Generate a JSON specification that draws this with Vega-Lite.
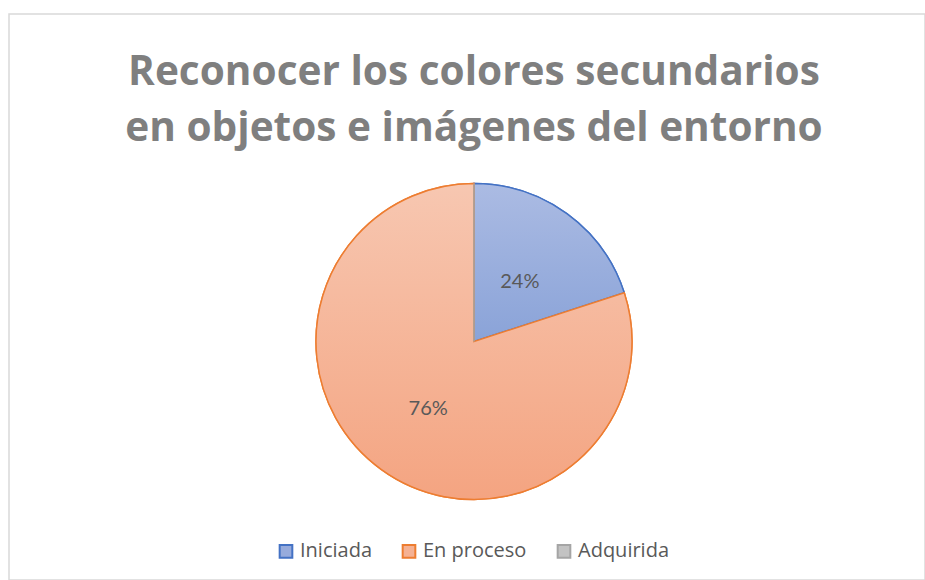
{
  "$schema": "https://vega.github.io/schema/vega-lite/v6.json",
  "width": 925,
  "height": 580,
  "autosize": {"type": "fit", "contains": "padding"},
  "padding": {"left": 9, "top": 14, "right": 0, "bottom": 0},
  "background": "white",
  "view": {"stroke": "#d9d9d9", "strokeWidth": 1.5, "fill": "white"},
  "config": {
    "font": "Lato",
    "legend": {
      "orient": "none",
      "direction": "horizontal",
      "legendX": 267,
      "legendY": 527,
      "symbolType": "square",
      "symbolSize": 160,
      "symbolStrokeWidth": 2,
      "labelFont": "Open Sans",
      "labelFontSize": 20,
      "labelColor": "#595959",
      "labelOffset": 4,
      "columnPadding": 26
    }
  },
  "title": {
    "text": ["Reconocer los colores secundarios", "en objetos e imágenes del entorno"],
    "font": "Open Sans",
    "fontSize": 40.6,
    "fontWeight": "bold",
    "color": "#7f7f7f",
    "anchor": "middle",
    "frame": "group",
    "baseline": "top",
    "lineHeight": 56,
    "offset": -136,
    "dx": 7
  },
  "data": {
    "values": [
      {"estado": "Iniciada", "valor": 20, "etiqueta": "24%", "n": 1},
      {"estado": "En proceso", "valor": 80, "etiqueta": "76%", "n": 2},
      {"estado": "Adquirida", "valor": 0, "etiqueta": "", "n": 3}
    ]
  },
  "encoding": {
    "theta": {"field": "valor", "type": "quantitative", "stack": true},
    "order": {"field": "n", "type": "quantitative"}
  },
  "layer": [
    {
      "mark": {"type": "arc", "radius": 158, "strokeWidth": 1.5, "xOffset": 7, "yOffset": 44.5},
      "encoding": {
        "stroke": {
          "field": "estado",
          "type": "nominal",
          "sort": ["Iniciada", "En proceso", "Adquirida"],
          "scale": {"domain": ["Iniciada", "En proceso", "Adquirida"], "range": ["#4472c4", "#ed7d31", "#a5a5a5"]},
          "legend": {"title": null}
        },
        "fill": {
          "field": "estado",
          "type": "nominal",
          "sort": ["Iniciada", "En proceso", "Adquirida"],
          "scale": {"domain": ["Iniciada", "En proceso", "Adquirida"], "range": ["#97abdc", "#f5b193", "#c3c3c3"]},
          "legend": {"title": null}
        }
      }
    },
    {
      "mark": {"type": "arc", "radius": 158, "strokeWidth": 1.5, "xOffset": 7, "yOffset": 44.5},
      "encoding": {
        "stroke": {
          "field": "estado",
          "type": "nominal",
          "sort": ["Iniciada", "En proceso", "Adquirida"],
          "legend": {"title": null}
        },
        "fill": {
          "condition": {
            "test": "datum.estado === 'Iniciada'",
            "value": {"gradient": "linear", "x1": 0, "y1": 0, "x2": 0, "y2": 1, "stops": [{"offset": 0, "color": "#abbbe3"}, {"offset": 1, "color": "#8aa3d8"}]}
          },
          "value": {"gradient": "linear", "x1": 0, "y1": 0, "x2": 0, "y2": 1, "stops": [{"offset": 0, "color": "#f7c7b1"}, {"offset": 1, "color": "#f4a481"}]}
        }
      }
    },
    {
      "mark": {"type": "text", "radius": 78, "fontSize": 20, "font": "Lato", "color": "#595959", "xOffset": 7, "yOffset": 48.5},
      "encoding": {
        "text": {"field": "etiqueta", "type": "nominal"}
      }
    }
  ]
}
